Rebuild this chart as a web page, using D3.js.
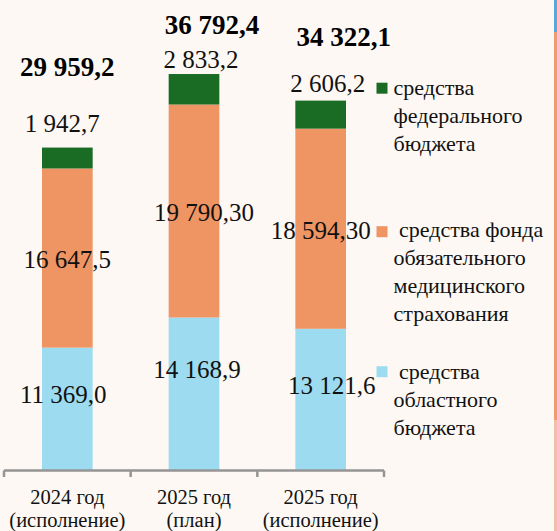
<!DOCTYPE html>
<html>
<head>
<meta charset="utf-8">
<script src="https://cdn.jsdelivr.net/npm/d3@7"></script>
<style>
  html, body { margin: 0; padding: 0; background: #fdf8f4; }
  svg { display: block; }
  text { white-space: pre; }
</style>
</head>
<body>
<div id="chart"></div>
<script>
// data
const categories = ["2024 год\n(исполнение)", "2025 год\n(план)", "2025 год\n(исполнение)"];
const seriesNames = ["средства областного бюджета", "средства фонда обязательного медицинского страхования", "средства федерального бюджета"];
const regional = [11369.0, 14168.9, 13121.6];
const oms = [16647.5, 19790.30, 18594.30];
const federal = [1942.7, 2833.2, 2606.2];
const regionalLabels = ["11 369,0", "14 168,9", "13 121,6"];
const omsLabels = ["16 647,5", "19 790,30", "18 594,30"];
const federalLabels = ["1 942,7", "2 833,2", "2 606,2"];
const totalLabels = ["29 959,2", "36 792,4", "34 322,1"];
const legendLines = [
  ["средства", "федерального", "бюджета"],
  [" средства фонда", "обязательного", "медицинского", "страхования"],
  [" средства", "областного", "бюджета"]
];

const colors = ["#9ddcf0", "#ef9463", "#1a6b24"];
const serif = "'Liberation Serif', 'Times New Roman', Times, 'DejaVu Serif', serif";

// manual label nudges (as placed on the slide)
const labelNudge = {
  regional: [[-4, -6], [3, -16], [11, -5]],
  oms: [[0, 10], [10, 10], [0, 10]],
  federal: [[-5, -16], [7, -6], [7, -9]],
  total: [[0, -72], [18, -40], [23, -55]]
};

const width = 557, height = 531;
const svg = d3.select("#chart").append("svg")
  .attr("width", width)
  .attr("height", height)
  .attr("font-family", serif)
  .style("font-family", serif);

svg.append("rect").attr("width", width).attr("height", height).attr("fill", "#fdf8f4");

// slide edge strip on the right
svg.append("rect").attr("x", 554).attr("y", 0).attr("width", 3).attr("height", 32).attr("fill", "#5aa8d8");
svg.append("rect").attr("x", 554).attr("y", 32).attr("width", 3).attr("height", 388).attr("fill", "#ee9c70");
svg.append("rect").attr("x", 554).attr("y", 420).attr("width", 3).attr("height", 111).attr("fill", "#efc0a8");

const x = d3.scaleBand()
  .domain(categories)
  .range([4, 384])
  .paddingInner(0.6)
  .paddingOuter(0.3);

const y = d3.scaleLinear()
  .domain([0, 40000])
  .range([470, 39.5]);

const table = categories.map((c, i) => ({ cat: c, regional: regional[i], oms: oms[i], federal: federal[i] }));
const stack = d3.stack().keys(["regional", "oms", "federal"]);
const series = stack(table);

const g = svg.append("g");

series.forEach((s, si) => {
  g.selectAll(".bar-" + si)
    .data(s)
    .enter()
    .append("rect")
    .attr("x", d => x(d.data.cat))
    .attr("width", x.bandwidth())
    .attr("y", d => y(d[1]))
    .attr("height", d => y(d[0]) - y(d[1]))
    .attr("fill", colors[si]);
});

// axis
const axisG = svg.append("g").attr("transform", "translate(0,470.5)");
axisG.append("line")
  .attr("x1", 4).attr("x2", 384)
  .attr("stroke", "#959595").attr("stroke-width", 2.5);
const tickPos = [4].concat(categories.map(c => x(c) - x.step() * x.paddingInner() / 2 + x.step()));
axisG.selectAll(".tick")
  .data(tickPos)
  .enter()
  .append("line")
  .attr("x1", d => Math.min(Math.max(d, 4), 384))
  .attr("x2", d => Math.min(Math.max(d, 4), 384))
  .attr("y1", 0).attr("y2", 6.5)
  .attr("stroke", "#959595").attr("stroke-width", 2.5);

categories.forEach(c => {
  const lines = c.split("\n");
  const t = svg.append("text")
    .attr("text-anchor", "middle")
    .attr("font-family", serif)
    .attr("font-size", 20.5)
    .attr("fill", "#111");
  lines.forEach((l, li) => {
    t.append("tspan")
      .attr("x", x(c) + x.bandwidth() / 2)
      .attr("y", 504 + li * 23)
      .text(l);
  });
});

// value labels
const cx = i => x(categories[i]) + x.bandwidth() / 2;
function segLabels(s, labels, nudge, fromTop) {
  g.selectAll(null)
    .data(s)
    .enter()
    .append("text")
    .attr("text-anchor", "middle")
    .attr("font-family", serif)
    .attr("font-size", 25)
    .attr("fill", "#111")
    .attr("x", (d, i) => cx(i) + nudge[i][0])
    .attr("y", (d, i) => (fromTop ? y(d[1]) : (y(d[0]) + y(d[1])) / 2) + nudge[i][1])
    .text((d, i) => labels[i]);
}
segLabels(series[0], regionalLabels, labelNudge.regional, false);
segLabels(series[1], omsLabels, labelNudge.oms, false);
segLabels(series[2], federalLabels, labelNudge.federal, true);

g.selectAll(".total")
  .data(series[2])
  .enter()
  .append("text")
  .attr("text-anchor", "middle")
  .attr("font-family", serif)
  .attr("font-size", 27)
  .attr("font-weight", "bold")
  .attr("fill", "#000")
  .attr("x", (d, i) => cx(i) + labelNudge.total[i][0])
  .attr("y", (d, i) => y(d[1]) + labelNudge.total[i][1])
  .text((d, i) => totalLabels[i]);

// legend
const legendTop = [95, 237, 379.3];
const legendSq = [82.7, 226.2, 366.2];
const legendColors = [colors[2], colors[1], colors[0]];
legendLines.forEach((lines, li) => {
  const lg = svg.append("g").attr("class", "legend");
  lg.append("rect")
    .attr("x", 376.5).attr("y", legendSq[li])
    .attr("width", 11).attr("height", 11)
    .attr("fill", legendColors[li]);
  const t = lg.append("text").attr("font-family", serif).attr("font-size", 22).attr("fill", "#111");
  lines.forEach((l, k) => {
    t.append("tspan")
      .attr("x", 393.5)
      .attr("y", legendTop[li] + k * 28)
      .text(l);
  });
});
</script>
</body>
</html>
